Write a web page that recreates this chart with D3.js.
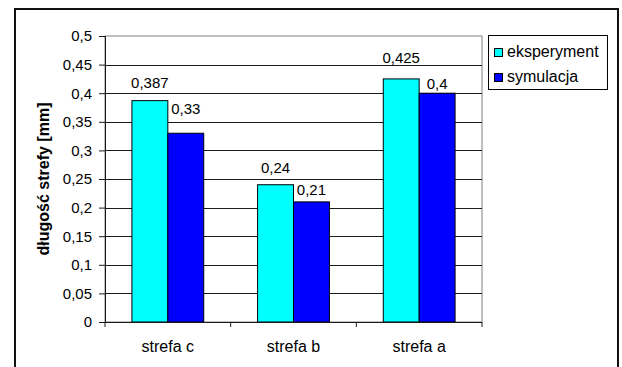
<!DOCTYPE html>
<html><head><meta charset="utf-8">
<script src="https://cdn.jsdelivr.net/npm/d3@7"></script>
<style>
html,body{margin:0;padding:0;background:#fff;}
svg{display:block;font-family:"Liberation Sans",Arial,sans-serif;}
</style></head>
<body>
<svg id="chart" width="622" height="367"></svg>
<script>
// ---- data ----
const categories = ["strefa c", "strefa b", "strefa a"];
const seriesNames = ["eksperyment", "symulacja"];
const eksperyment = [0.387, 0.24, 0.425];
const symulacja = [0.33, 0.21, 0.4];
const yTicks = [0, 0.05, 0.1, 0.15, 0.2, 0.25, 0.3, 0.35, 0.4, 0.45, 0.5];
const yTitle = "długość strefy [mm]";

// ---- layout / style ----
const colors = ["#00FFFF", "#0000FF"];
const plot = {left: 105, right: 482, top: 36, bottom: 322};
// manual label lift (px above bar top) as placed in the original
const labelLift = [[13, 12, 16], [19, 7, 4]];

const svg = d3.select("#chart");
const fmt = v => String(v).replace(".", ",");

// outer frame
svg.append("rect").attr("x", 15).attr("y", 9).attr("width", 603).attr("height", 370)
  .attr("fill", "#fff").attr("stroke", "#111").attr("stroke-width", 2);

const y = d3.scaleLinear().domain([0, 0.5]).range([plot.bottom, plot.top]);
const x0 = d3.scaleBand().domain(categories).range([plot.left, plot.right]).padding(0);
const bw = x0.bandwidth();
const x1 = d3.scaleBand().domain(seriesNames)
  .range([bw * 0.75 / 3.5, bw * 2.75 / 3.5]).padding(0);

// plot area border (grey)
svg.append("rect").attr("x", plot.left).attr("y", plot.top)
  .attr("width", plot.right - plot.left).attr("height", plot.bottom - plot.top)
  .attr("fill", "#fff").attr("stroke", "#808080").attr("stroke-width", 1);

// gridlines
svg.append("g").selectAll("line").data(yTicks.filter(t => t > 0 && t < 0.5)).join("line")
  .attr("x1", plot.left).attr("x2", plot.right)
  .attr("y1", d => Math.round(y(d)) + 0.5).attr("y2", d => Math.round(y(d)) + 0.5)
  .attr("stroke", "#1a1a1a").attr("stroke-width", 1);

// y axis
const yAxis = d3.axisLeft(y).tickValues(yTicks).tickSize(6).tickPadding(7).tickFormat(fmt);
const gy = svg.append("g").attr("transform", `translate(${plot.left},0)`).call(yAxis);
gy.select(".domain").attr("stroke", "#1a1a1a");
gy.selectAll(".tick line").attr("stroke", "#1a1a1a");
gy.selectAll("text").attr("font-size", 15).attr("fill", "#000")
  .attr("font-family", "Liberation Sans, Arial, sans-serif");

// bars
const groups = svg.append("g").selectAll("g").data(categories).join("g")
  .attr("transform", d => `translate(${x0(d)},0)`);
const seriesVals = [eksperyment, symulacja];
groups.selectAll("rect").data((c, i) => seriesNames.map((s, j) => ({s, j, v: seriesVals[j][i], i})))
  .join("rect")
  .attr("x", d => x1(d.s)).attr("width", x1.bandwidth())
  .attr("y", d => y(d.v)).attr("height", d => y(0) - y(d.v))
  .attr("fill", d => colors[d.j]).attr("stroke", "#000").attr("stroke-width", 1);

// data labels
groups.selectAll("text").data((c, i) => seriesNames.map((s, j) => ({s, j, v: seriesVals[j][i], i})))
  .join("text")
  .attr("x", d => x1(d.s) + x1.bandwidth() / 2)
  .attr("y", d => y(d.v) - labelLift[d.j][d.i])
  .attr("text-anchor", "middle").attr("font-size", 15).attr("fill", "#000")
  .text(d => fmt(d.v));

// x axis
const xAxis = d3.axisBottom(x0).tickSize(0).tickPadding(0);
const gx = svg.append("g").attr("transform", `translate(0,${plot.bottom})`);
gx.append("line").attr("x1", plot.left).attr("x2", plot.right).attr("y1", 0.5).attr("y2", 0.5)
  .attr("stroke", "#1a1a1a");
gx.selectAll("line.tk").data([plot.left, ...categories.map(c => x0(c) + bw)]).join("line")
  .attr("class", "tk").attr("x1", d => d).attr("x2", d => d).attr("y1", 0).attr("y2", 5)
  .attr("stroke", "#1a1a1a");
gx.selectAll("text").data(categories).join("text")
  .attr("x", d => x0(d) + bw / 2).attr("y", 30)
  .attr("text-anchor", "middle").attr("font-size", 16).attr("fill", "#000")
  .text(d => d);

// y title
svg.append("text").attr("transform", `translate(48.5,${(plot.top + plot.bottom) / 2}) rotate(-90)`)
  .attr("text-anchor", "middle").attr("font-size", 16).attr("font-weight", "bold")
  .text(yTitle);

// legend
const lg = svg.append("g");
lg.append("rect").attr("x", 488.5).attr("y", 35.5).attr("width", 119).attr("height", 54)
  .attr("fill", "#fff").attr("stroke", "#000").attr("stroke-width", 1);
seriesNames.forEach((s, j) => {
  lg.append("rect").attr("x", 494.5).attr("y", 48.5 + j * 25).attr("width", 8).attr("height", 8)
    .attr("fill", colors[j]).attr("stroke", "#000");
  lg.append("text").attr("x", 507).attr("y", 57 + j * 25).attr("font-size", 16).text(s);
});
</script>
</body></html>
